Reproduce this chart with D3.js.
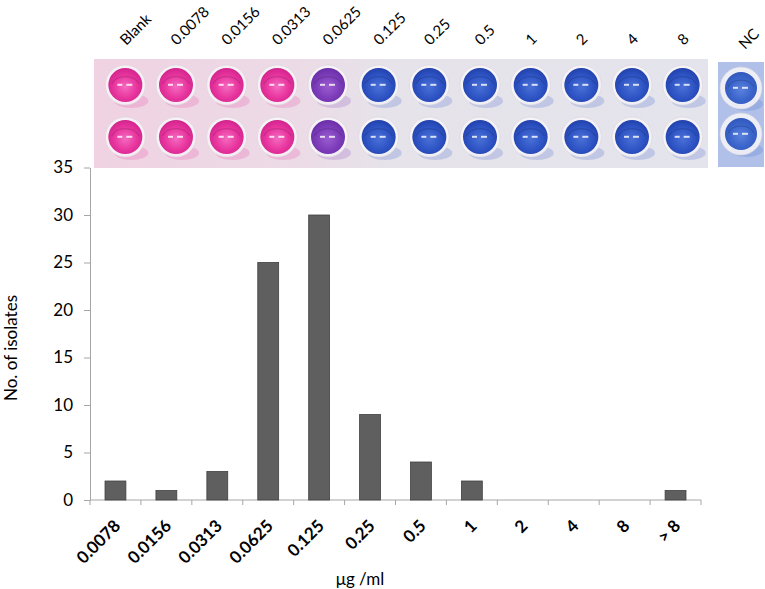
<!DOCTYPE html>
<html>
<head>
<meta charset="utf-8">
<script src="https://cdn.jsdelivr.net/npm/d3@7"></script>
<style>
body{margin:0;background:#fff}
text{font-family:Lato,"Open Sans",sans-serif;fill:#000}
</style>
</head>
<body>
<svg id="chart" width="765" height="589"></svg>
<script>
// histogram of MIC values
var mic = ["0.0078","0.0156","0.0313","0.0625","0.125","0.25","0.5","1","2","4","8","> 8"]
var isolates = [2,1,3,25,30,9,4,2,0,0,0,1]
var yTicks = [0,5,10,15,20,25,30,35]

// plate photo: column labels and the colour each column turned
var plateCols = ["Blank","0.0078","0.0156","0.0313","0.0625","0.125","0.25","0.5","1","2","4","8"]
var plateRead = ["pink","pink","pink","pink","purple","blue","blue","blue","blue","blue","blue","blue"]
var ncRead = ["nc","nc"]

var svg = d3.select("#chart")

var x = d3.scaleBand().domain(mic).range([90,701]).paddingInner(0.59).paddingOuter(0.295)
var y = d3.scaleLinear().domain([0,35]).range([500,167.5])

var axisCol = "#a6a6a6"

// y axis
var ya = svg.append("g").attr("transform","translate(90,0)")
    .call(d3.axisLeft(y).tickValues(yTicks).tickSize(6).tickSizeOuter(0).tickPadding(11))
ya.select(".domain").attr("stroke",axisCol)
ya.selectAll(".tick line").attr("stroke",axisCol)
ya.selectAll(".tick text").attr("font-size","17px").attr("font-family","Lato").attr("fill","#000")

// x axis (ticks between categories, like the original)
var x0 = x.range()[0]
svg.append("line").attr("x1",x0).attr("x2",x.range()[1]).attr("y1",y(0)).attr("y2",y(0)).attr("stroke",axisCol)
svg.selectAll(".xtick").data(d3.range(mic.length+1)).enter().append("line")
    .attr("class","xtick")
    .attr("x1",function(i){return x0+i*x.step()}).attr("x2",function(i){return x0+i*x.step()})
    .attr("y1",y(0)).attr("y2",y(0)+5).attr("stroke",axisCol)

svg.selectAll(".xlab").data(mic).enter().append("text")
    .attr("class","xlab")
    .attr("text-anchor","end")
    .attr("font-size","17px")
    .attr("font-weight","bold")
    .attr("transform",function(d){return "translate("+(x(d)+x.bandwidth()/2+6)+",527) rotate(-45)"})
    .text(function(d){return d})

// bars
svg.selectAll(".bar").data(mic).enter().append("rect")
    .attr("class","bar")
    .attr("x",function(d){return x(d)})
    .attr("width",x.bandwidth())
    .attr("y",function(d,i){return y(isolates[i])})
    .attr("height",function(d,i){return y(0)-y(isolates[i])})
    .attr("fill","#5f5f5f").attr("stroke","#404040").attr("stroke-width",0.8)

// axis titles
svg.append("text").attr("text-anchor","middle").attr("font-size","17px")
    .attr("transform","translate(17,348) rotate(-90)").text("No. of isolates")
svg.append("text").attr("text-anchor","middle").attr("font-size","17px")
    .attr("x",360).attr("y",585).text("μg /ml")

// ---- plate picture ----
var defs = svg.append("defs")
var wellCol = {
  pink:  ["#f46ac0","#e9369f","#d2238c"],
  purple:["#9a5cd0","#7e3ebb","#6a2ea8"],
  blue:  ["#4a70d6","#2f55c6","#2242ac"],
  nc:    ["#5a82dc","#3c66cc","#3257bc"]
}
Object.keys(wellCol).forEach(function(k){
  var g = defs.append("radialGradient").attr("id","g_"+k).attr("cx","50%").attr("cy","55%").attr("r","55%")
  g.append("stop").attr("offset","0%").attr("stop-color",wellCol[k][0])
  g.append("stop").attr("offset","60%").attr("stop-color",wellCol[k][1])
  g.append("stop").attr("offset","100%").attr("stop-color",wellCol[k][2])
})
var pg = defs.append("linearGradient").attr("id","plateBg")
pg.append("stop").attr("offset","0%").attr("stop-color","#f0d2e2")
pg.append("stop").attr("offset","33%").attr("stop-color","#ecdbe6")
pg.append("stop").attr("offset","48%").attr("stop-color","#e6e3ea")
pg.append("stop").attr("offset","100%").attr("stop-color","#e4e4ec")

var wx = d3.scaleBand().domain(plateCols).range([100,708])
var wy = d3.scalePoint().domain([0,1]).range([85,137])
var wr = 17

svg.append("rect").attr("x",94).attr("y",59).attr("width",614).attr("height",109).attr("fill","url(#plateBg)")

var wells = []
plateCols.forEach(function(c,i){
  [0,1].forEach(function(r){ wells.push({cx:wx(c)+wx.bandwidth()/2, cy:wy(r), k:plateRead[i]}) })
})

function drawWells(sel, data, rim, r){
  var g = sel.selectAll(null).data(data).enter().append("g")
  g.append("ellipse").attr("cx",function(d){return d.cx+6}).attr("cy",function(d){return d.cy+16})
      .attr("rx",r).attr("ry",7).attr("fill",function(d){return wellCol[d.k][1]}).attr("opacity",0.2)
  g.append("circle").attr("cx",function(d){return d.cx}).attr("cy",function(d){return d.cy})
      .attr("r",r+rim).attr("fill","#f8f6f8").attr("fill-opacity",0.85).attr("stroke","#d6d4dc").attr("stroke-width",0.6)
  g.append("circle").attr("cx",function(d){return d.cx}).attr("cy",function(d){return d.cy})
      .attr("r",r).attr("fill",function(d){return "url(#g_"+d.k+")"})
  g.append("path").attr("fill","none").attr("stroke","#000").attr("stroke-opacity",0.18).attr("stroke-width",1)
      .attr("d",function(d){return "M"+(d.cx-r*0.8)+","+(d.cy-1)+" A"+(r*0.85)+","+(r*0.65)+" 0 0 1 "+(d.cx+r*0.8)+","+(d.cy-1)})
  g.append("rect").attr("x",function(d){return d.cx-8}).attr("y",function(d){return d.cy-1.2})
      .attr("width",5).attr("height",2).attr("fill","#fff").attr("opacity",0.8)
  g.append("rect").attr("x",function(d){return d.cx+1}).attr("y",function(d){return d.cy-1.2})
      .attr("width",6).attr("height",2).attr("fill","#fff").attr("opacity",0.8)
}
drawWells(svg.append("g"), wells, 3, wr)

// negative control strip
svg.append("rect").attr("x",718).attr("y",62).attr("width",46).attr("height",105).attr("fill","#dfe4f2")
svg.append("rect").attr("x",718).attr("y",62).attr("width",46).attr("height",105).attr("fill","#5a7fd6").attr("opacity",0.35)
var ny = d3.scalePoint().domain([0,1]).range([88,134])
var ncWells = ncRead.map(function(k,i){return {cx:741, cy:ny(i), k:k}})
drawWells(svg.append("g"), ncWells, 5, 16)

// column labels over the plate
svg.selectAll(".plab").data(plateCols).enter().append("text")
    .attr("class","plab")
    .attr("font-size","15px")
    .attr("transform",function(d){return "translate("+(wx(d)+wx.bandwidth()/2+1)+",46) rotate(-45)"})
    .text(function(d){return d})
svg.append("text").attr("font-size","15px")
    .attr("transform","translate(745,50) rotate(-45)").text("NC")
</script>
</body>
</html>
